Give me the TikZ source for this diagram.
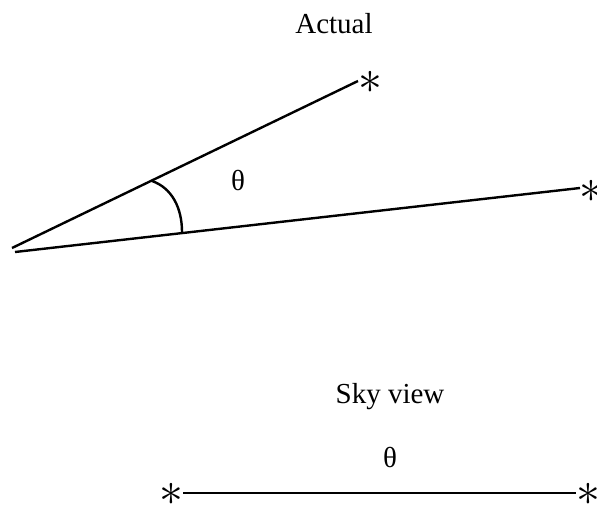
\documentclass[tikz,border=0pt]{standalone}
\usepackage{fontspec}
\setmainfont{Liberation Serif}
\begin{document}
\begin{tikzpicture}[x=1pt,y=-1pt,
  lbl/.style={font=\fontsize{29}{31}\selectfont, inner sep=0pt, anchor=base},
  star/.style={font=\fontsize{20}{20}\selectfont, inner sep=0pt},
  ln/.style={line width=2.4pt}]
\useasboundingbox (0,0) rectangle (597,506);
\newcommand{\skystar}{\scalebox{2.3}{$\ast$}}
\node[lbl] (actual) at (334,33) {Actual};
\node[lbl] (th1) at (238,190) {θ};
\node[lbl] (sky) at (390,403) {Sky view};
\node[lbl] (th2) at (390,467) {θ};
\coordinate (v1) at (12,248);
\coordinate (v2) at (15,252);
\coordinate (e1) at (358,81);
\coordinate (e2) at (580,188);
\coordinate (a1) at (152,181);
\coordinate (a2) at (182,232);
\node[star] (s1) at (370,82) {\skystar};
\node[star] (s2) at (591,191) {\skystar};
\node[star] (s3) at (171,494) {\skystar};
\node[star] (s4) at (588,494) {\skystar};
\draw[ln] (v1) -- (e1);
\draw[ln] (v2) -- (e2);
\draw[ln] (a1) .. controls (172,188) and (182,208) .. (a2);
\draw[ln] (s3.east |- 0,493) -- (s4.west |- 0,493);
\end{tikzpicture}
\end{document}
